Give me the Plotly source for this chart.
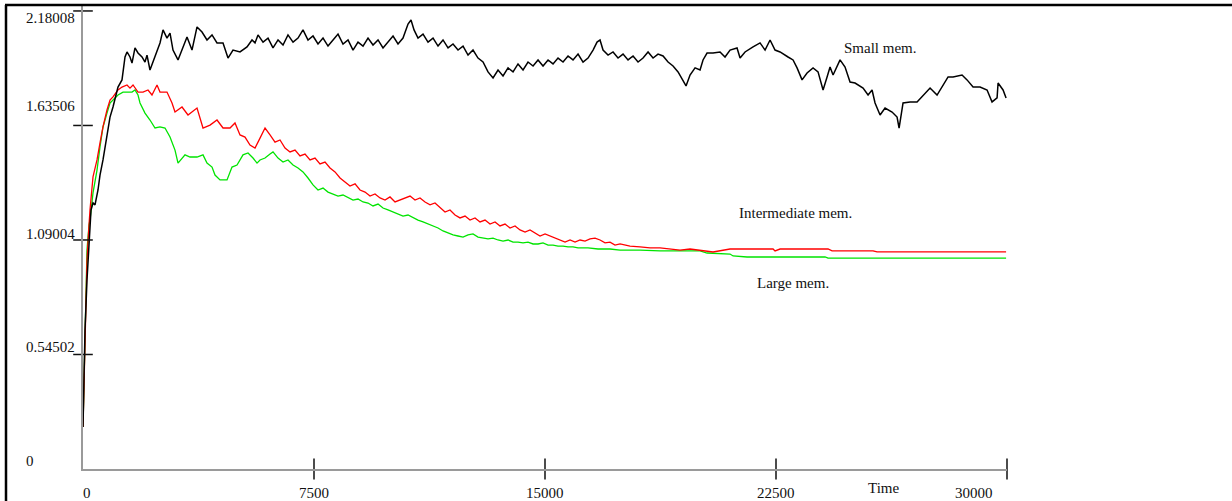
import plotly.graph_objects as go

# ---------------- data ----------------
time_small = [0, 65, 130, 195, 260, 325, 390, 487, 552, 649, 747, 812, 877, 974, 1072, 1136, 1266, 1364, 1429, 1526,
              1591, 1688, 1786, 1916, 2013, 2078, 2175, 2338, 2500, 2598, 2727, 2825, 2922, 3085, 3247, 3377, 3539, 3702,
              3864, 4026, 4189, 4351, 4546, 4708, 4870, 5098, 5325, 5487, 5585, 5682,
              5845, 6007, 6169, 6332, 6494, 6656, 6819, 6981, 7143, 7306, 7468, 7630, 7793, 7955, 8118, 8280, 8442, 8605,
              8767, 8929, 9092, 9254, 9416, 9579, 9741, 9903, 10066, 10228, 10390, 10553, 10650, 10748, 10877, 11040,
              11202, 11365, 11527, 11689, 11852, 12014, 12176, 12339, 12501, 12663, 12826, 12988, 13150, 13313, 13475,
              13637, 13800, 13962, 14124, 14287, 14449, 14612, 14774, 14936, 15099, 15261, 15423, 15586, 15748, 15910,
              16073, 16235, 16397, 16560, 16690, 16787, 16884, 17047, 17209, 17371, 17534, 17696, 17859, 18021, 18183,
              18346, 18508, 18670, 18833, 18995, 19157, 19320, 19482, 19579, 19709, 19872, 20034, 20131, 20261, 20456,
              20683, 20845, 21008, 21235, 21333, 21495, 21755, 21982, 22145, 22307, 22469, 22632, 22891, 23054, 23184,
              23346, 23508, 23703, 23865, 24028, 24158, 24255, 24353, 24580, 24742, 24904, 25067, 25327, 25489, 25619,
              25716, 25879, 26041, 26268, 26431, 26496, 26625, 26853, 27080, 27242, 27502, 27729, 27892, 28087, 28249,
              28541, 28703, 28898, 29125, 29353, 29515, 29678, 29710, 29872, 29970]
gain_small = [0.200, 0.662, 0.900, 1.042, 1.233, 1.266, 1.257, 1.328, 1.399, 1.471, 1.566, 1.614, 1.675, 1.723, 1.780,
              1.818, 1.852, 1.961, 1.985, 1.961, 1.932, 2.004, 1.980, 1.961, 1.937, 1.970, 1.899, 1.961, 2.028, 2.090,
              2.051, 2.075, 1.994, 1.947, 2.009, 2.056, 1.994, 2.104, 2.080, 2.042, 2.066, 2.028, 2.028, 1.956, 1.994,
              1.985, 2.009, 2.042, 2.028, 2.066,
              2.032, 2.051, 2.004, 2.042, 2.018, 2.066, 2.032, 2.051, 2.090, 2.042, 2.061, 2.023, 2.051, 2.013, 2.042,
              2.070, 2.023, 2.042, 1.994, 2.032, 2.013, 2.051, 2.018, 2.042, 2.004, 2.032, 2.061, 2.023, 2.051, 2.118,
              2.137, 2.090, 2.051, 2.070, 2.032, 2.051, 2.013, 2.042, 2.004, 2.023, 1.994, 2.013, 1.970, 1.994, 1.956,
              1.937, 1.890, 1.861, 1.899, 1.871, 1.909, 1.890, 1.928, 1.899, 1.937, 1.918, 1.947, 1.918, 1.947, 1.928,
              1.956, 1.937, 1.966, 1.947, 1.975, 1.937, 1.956, 1.994, 2.032, 2.042, 1.994, 1.970, 1.985, 1.956, 1.975,
              1.947, 1.966, 1.937, 1.956, 1.985, 1.956, 1.975, 1.966, 1.937, 1.918, 1.890, 1.852, 1.823, 1.875, 1.909,
              1.899, 1.947, 1.980, 1.980, 1.985, 1.961, 1.994, 2.004, 1.956, 1.985, 2.009, 2.028, 1.994, 2.042, 1.994,
              1.985, 1.961, 1.947, 1.909, 1.852, 1.885, 1.909, 1.890, 1.804, 1.866, 1.913, 1.875, 1.947, 1.913, 1.842,
              1.837, 1.813, 1.780, 1.804, 1.742, 1.685, 1.718, 1.699, 1.675, 1.623, 1.742, 1.747, 1.747, 1.771, 1.813,
              1.780, 1.818, 1.866, 1.866, 1.875, 1.852, 1.818, 1.818, 1.804, 1.747, 1.766, 1.837, 1.804, 1.766]

time_inter = [0, 65, 130, 195, 227, 325, 455, 552, 649, 779, 877, 974, 1136, 1266, 1429, 1526, 1624, 1786, 1948, 2111,
              2240, 2403, 2500, 2727, 2890, 2987, 3215, 3409, 3702, 3896, 4124, 4351, 4546, 4773, 4935, 5098, 5260,
              5422, 5585, 5747, 5910, 6072, 6234, 6397, 6559, 6721, 6884, 7046, 7208, 7371, 7533, 7695, 7858, 8020,
              8182, 8345, 8507, 8669, 8832, 8994, 9157, 9319, 9481, 9644, 9806, 9968, 10131, 10293, 10455, 10618, 10780,
              10942, 11105, 11267, 11429, 11592, 11754, 11916, 12079, 12241, 12404, 12566, 12728, 12891, 13053, 13215,
              13378, 13540, 13702, 13865, 14027, 14189, 14352, 14514, 14676, 14839, 15001, 15163, 15326, 15488, 15651,
              15813, 15975, 16138, 16300, 16462, 16625, 16787, 16949, 17112, 17274, 17436, 17761, 18086, 18410, 18735,
              19060, 19385, 19709, 20034, 20456, 21008, 22404, 22469, 22632, 24190, 24320, 25651, 25781, 29970]
gain_inter = [0.200, 0.662, 0.995, 1.161, 1.233, 1.390, 1.471, 1.552, 1.628, 1.709, 1.756, 1.771, 1.804, 1.818, 1.828,
              1.813, 1.828, 1.794, 1.794, 1.804, 1.780, 1.828, 1.794, 1.794, 1.742, 1.699, 1.723, 1.685, 1.718, 1.623,
              1.637, 1.661, 1.623, 1.623, 1.647, 1.590, 1.580, 1.542, 1.528, 1.575, 1.623, 1.590, 1.556, 1.566, 1.528,
              1.509, 1.518, 1.490, 1.499, 1.471, 1.480, 1.452, 1.461, 1.433, 1.414, 1.385, 1.366, 1.347, 1.357, 1.328,
              1.318, 1.299, 1.309, 1.290, 1.280, 1.295, 1.271, 1.280, 1.290, 1.299, 1.280, 1.290, 1.271, 1.257, 1.266,
              1.242, 1.223, 1.233, 1.209, 1.195, 1.204, 1.185, 1.195, 1.176, 1.185, 1.166, 1.176, 1.157, 1.166, 1.147,
              1.157, 1.138, 1.128, 1.138, 1.123, 1.109, 1.119, 1.109, 1.099, 1.090, 1.080, 1.090, 1.080, 1.090, 1.085,
              1.095, 1.099, 1.090, 1.076, 1.080, 1.066, 1.071, 1.061, 1.057, 1.052, 1.052, 1.047, 1.042, 1.047, 1.042,
              1.033, 1.047, 1.047, 1.038, 1.047, 1.047, 1.038, 1.038, 1.033, 1.033]

time_large = [0, 65, 130, 195, 227, 325, 455, 552, 649, 779, 877, 1039, 1136, 1299, 1429, 1591, 1688, 1786, 1851, 2013,
              2175, 2338, 2500, 2663, 2825, 2987, 3085, 3312, 3474, 3702, 3896, 4026, 4189, 4286, 4448, 4676, 4838,
              5000, 5195, 5358, 5520, 5650, 5747, 5910, 6072, 6169, 6332, 6494, 6656, 6819, 6981, 7143, 7306, 7468,
              7630, 7793, 7955, 8118, 8280, 8442, 8605, 8767, 8929, 9092, 9254, 9416, 9579, 9741, 9903, 10066, 10228,
              10390, 10553, 10715, 10877, 11040, 11202, 11365, 11527, 11689, 11852, 12014, 12176, 12339, 12501, 12663,
              12826, 12988, 13150, 13313, 13475, 13637, 13800, 13962, 14124, 14287, 14449, 14612, 14774, 14936, 15099,
              15261, 15423, 15586, 15748, 15910, 16073, 16397, 16722, 17112, 17436, 18086, 18735, 19385, 20034, 20261,
              21008, 21106, 21560, 24093, 24190, 29970]
gain_large = [0.200, 0.709, 1.042, 1.161, 1.185, 1.314, 1.423, 1.533, 1.628, 1.694, 1.742, 1.766, 1.780, 1.794, 1.794,
              1.794, 1.804, 1.780, 1.742, 1.694, 1.661, 1.623, 1.628, 1.623, 1.580, 1.518, 1.456, 1.495, 1.485, 1.485,
              1.495, 1.456, 1.437, 1.399, 1.376, 1.376, 1.437, 1.447, 1.495, 1.504, 1.480, 1.456, 1.471, 1.480, 1.499,
              1.509, 1.480, 1.461, 1.471, 1.447, 1.433, 1.414, 1.385, 1.352, 1.328, 1.337, 1.318, 1.309, 1.299, 1.304,
              1.290, 1.280, 1.285, 1.271, 1.266, 1.252, 1.261, 1.242, 1.233, 1.223, 1.214, 1.204, 1.209, 1.195, 1.185,
              1.176, 1.166, 1.157, 1.147, 1.133, 1.123, 1.114, 1.109, 1.104, 1.114, 1.119, 1.104, 1.099, 1.095, 1.099,
              1.090, 1.085, 1.090, 1.080, 1.080, 1.076, 1.080, 1.071, 1.071, 1.076, 1.066, 1.066, 1.061, 1.061, 1.057,
              1.057, 1.052, 1.052, 1.047, 1.047, 1.042, 1.042, 1.038, 1.038, 1.038, 1.028, 1.023, 1.014, 1.009, 1.009,
              1.004, 1.004]

x_tick_vals = [0, 7500, 15000, 22500, 30000]
x_tick_text = ["0", "7500", "15000", "22500", "30000"]
y_tick_vals = [0, 0.54502, 1.09004, 1.63506, 2.18008]
y_tick_text = ["0", "0.54502", "1.09004", "1.63506", "2.18008"]

series_names = ["Small mem.", "Intermediate mem.", "Large mem."]
caption = "Figure 8: Average gain of agents using different memory sizes, 3 players (N=3)"

assert len(time_small) == len(gain_small), (len(time_small), len(gain_small))
assert len(time_inter) == len(gain_inter), (len(time_inter), len(gain_inter))
assert len(time_large) == len(gain_large), (len(time_large), len(gain_large))

# ---------------- styling ----------------
FONT = "Liberation Serif, Times New Roman, serif"
AXIS_GREY = "#9a9a9a"
W, H = 1232, 501
ML, MR, MT, MB = 83, 225, 6, 32
PW, PH = W - ML - MR, H - MT - MB
Y_MAX = 2.2037


def px_x(p):  # pixel -> paper x
    return (p - ML) / PW


def px_y(p):  # pixel -> paper y
    return (H - MB - p) / PH


fig = go.Figure()
fig.add_trace(go.Scatter(x=time_large, y=gain_large, mode="lines", name=series_names[2],
                         line=dict(color="#00e400", width=1.3), hoverinfo="skip"))
fig.add_trace(go.Scatter(x=time_inter, y=gain_inter, mode="lines", name=series_names[1],
                         line=dict(color="#ff0000", width=1.3), hoverinfo="skip"))
fig.add_trace(go.Scatter(x=time_small, y=gain_small, mode="lines", name=series_names[0],
                         line=dict(color="#000000", width=1.5), hoverinfo="skip"))

# crossing tick marks
fig.add_trace(go.Scatter(x=x_tick_vals[1:], y=[0] * (len(x_tick_vals) - 1), mode="markers",
                         marker=dict(symbol="line-ns", size=15, line=dict(width=1.5, color="#111")),
                         cliponaxis=False, hoverinfo="skip"))
fig.add_trace(go.Scatter(x=[0] * (len(y_tick_vals) - 1), y=y_tick_vals[1:], mode="markers",
                         marker=dict(symbol="line-ew", size=14, line=dict(width=1.5, color="#111")),
                         cliponaxis=False, hoverinfo="skip"))

ann = []
# x tick labels
x_shift = [4, 0, 0, 0, -12]
x_anchor = ["center", "center", "center", "center", "right"]
for v, t, s, a in zip(x_tick_vals, x_tick_text, x_shift, x_anchor):
    ann.append(dict(x=v, y=px_y(493), xref="x", yref="paper", text=t, showarrow=False,
                    xanchor=a, yanchor="middle", xshift=s, font=dict(size=15, family=FONT, color="#111")))
# y tick labels
y_shift = [8, 7.5, 6, 19.5, -7]
for v, t, s in zip(y_tick_vals, y_tick_text, y_shift):
    ann.append(dict(x=px_x(24), y=v, xref="paper", yref="y", text=t, showarrow=False,
                    xanchor="left", yanchor="middle", yshift=s, font=dict(size=15, family=FONT, color="#111")))
# axis title
ann.append(dict(x=px_x(883), y=px_y(488), xref="paper", yref="paper", text="Time", showarrow=False,
                xanchor="center", yanchor="middle", font=dict(size=15, family=FONT, color="#111")))
# series labels
ann.append(dict(x=25880, y=2.004, xref="x", yref="y", text=series_names[0], showarrow=False,
                xanchor="center", yanchor="middle", font=dict(size=15, family=FONT, color="#111")))
ann.append(dict(x=23120, y=1.218, xref="x", yref="y", text=series_names[1], showarrow=False,
                xanchor="center", yanchor="middle", font=dict(size=15, family=FONT, color="#111")))
ann.append(dict(x=23050, y=0.885, xref="x", yref="y", text=series_names[2], showarrow=False,
                xanchor="center", yanchor="middle", font=dict(size=15, family=FONT, color="#111")))
# caption, cut off at the top edge of the page (only descenders remain visible)
ann.append(dict(x=px_x(20), y=px_y(0.5), xref="paper", yref="paper", text=caption, showarrow=False,
                xanchor="left", yanchor="bottom", font=dict(size=17, family=FONT, color="#000")))

shapes = [
    dict(type="line", xref="paper", yref="paper", x0=px_x(6), x1=px_x(6), y0=px_y(5), y1=px_y(520),
         line=dict(color="black", width=2.5)),
    dict(type="line", xref="paper", yref="paper", x0=px_x(5), x1=px_x(1250), y0=px_y(5), y1=px_y(5),
         line=dict(color="black", width=2.5)),
]

fig.update_layout(
    width=W, height=H,
    margin=dict(l=ML, r=MR, t=MT, b=MB),
    paper_bgcolor="white", plot_bgcolor="white",
    showlegend=False,
    font=dict(family=FONT, size=15, color="#111"),
    annotations=ann, shapes=shapes,
    xaxis=dict(range=[0, 30000], showline=True, linecolor=AXIS_GREY, linewidth=1.5, showgrid=False,
               zeroline=False, showticklabels=False, ticks=""),
    yaxis=dict(range=[0, Y_MAX], showline=True, linecolor=AXIS_GREY, linewidth=1.5, showgrid=False,
               zeroline=False, showticklabels=False, ticks=""),
)

fig.write_html("out.html", config={"displayModeBar": False},
               post_script="document.body.style.margin='0';document.body.style.padding='0';"
                           "document.body.style.overflow='hidden';")
